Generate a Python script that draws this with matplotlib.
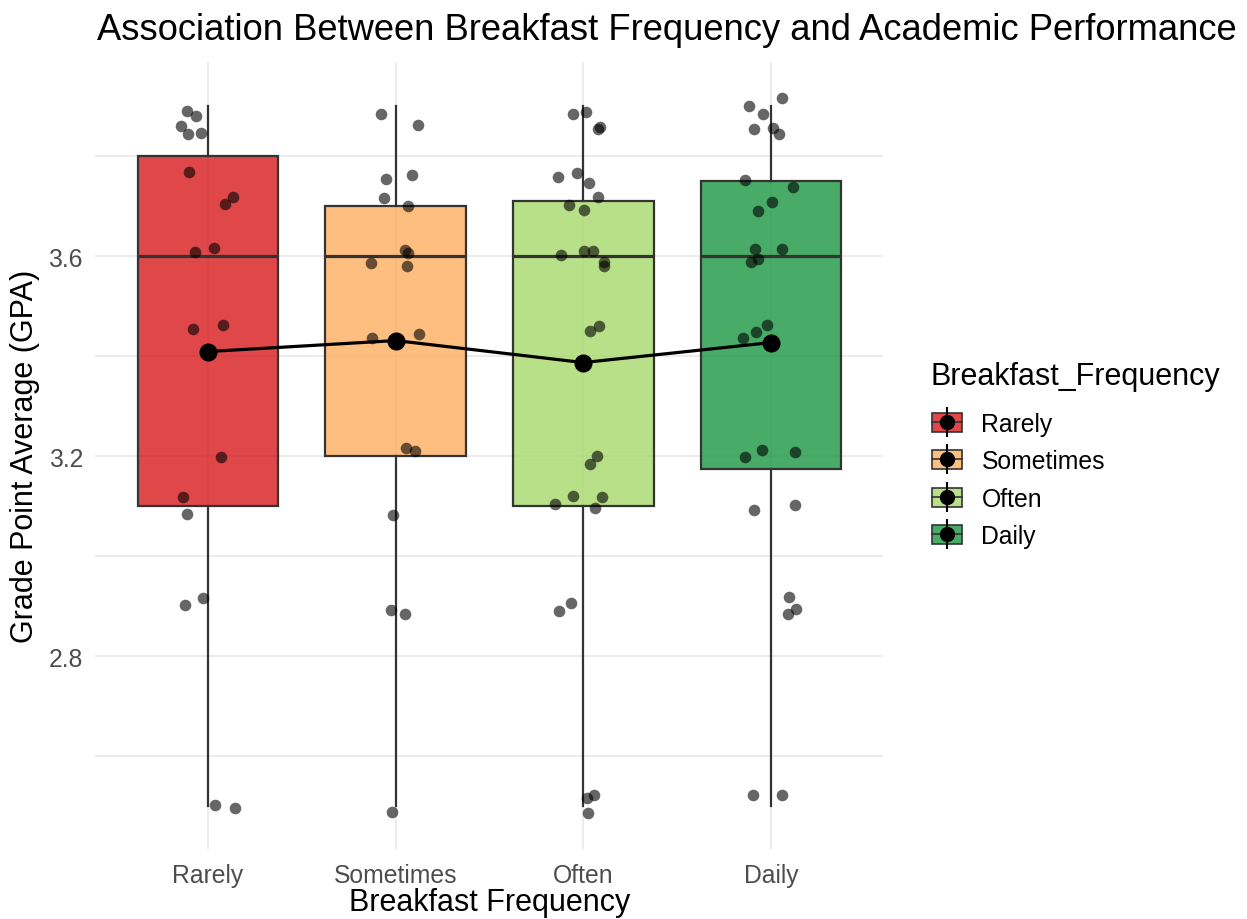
import matplotlib.pyplot as plt
from matplotlib.patches import Patch
from matplotlib.lines import Line2D
from matplotlib.legend_handler import HandlerTuple

plt.rcParams['font.family'] = ['Liberation Sans', 'DejaVu Sans']

categories = ['Rarely', 'Sometimes', 'Often', 'Daily']
fill_colors = ['#D7191C', '#FDAE61', '#A6D96A', '#1A9641']

# box summaries per group
q1 = [3.10, 3.20, 3.10, 3.175]
medians = [3.60, 3.60, 3.60, 3.60]
q3 = [3.80, 3.70, 3.71, 3.75]
whisker_lo = [2.50, 2.50, 2.50, 2.50]
whisker_hi = [3.90, 3.90, 3.90, 3.90]
means = [3.409, 3.431, 3.387, 3.427]

# jittered observations: horizontal offset from group centre, GPA
rarely_dx = [-0.110, -0.066, -0.145, -0.105, -0.036, -0.100, 0.132, 0.091, -0.068, 0.034,
             -0.082, 0.078, 0.068, -0.135, -0.112, -0.125, -0.029, 0.037, 0.142]
rarely_gpa = [3.891, 3.881, 3.861, 3.845, 3.847, 3.769, 3.719, 3.705, 3.609, 3.617,
              3.455, 3.463, 3.198, 3.118, 3.085, 2.902, 2.917, 2.502, 2.497]

sometimes_dx = [-0.080, 0.121, -0.050, 0.089, -0.062, 0.066, 0.048, 0.068, -0.129, 0.060,
                -0.124, 0.124, 0.057, 0.101, -0.014, -0.023, 0.051, -0.020]
sometimes_gpa = [3.885, 3.863, 3.755, 3.762, 3.717, 3.701, 3.612, 3.607, 3.587, 3.581,
                 3.437, 3.445, 3.217, 3.211, 3.083, 2.893, 2.885, 2.489]

often_dx = [-0.053, 0.014, 0.076, 0.091, -0.137, -0.036, 0.032, 0.076, -0.075, 0.002,
            -0.119, 0.005, 0.053, 0.108, 0.112, 0.037, 0.085, 0.071, 0.037, -0.053,
            -0.149, 0.100, 0.064, -0.132, -0.066, 0.022, 0.059, 0.027]
often_gpa = [3.884, 3.889, 3.854, 3.859, 3.759, 3.766, 3.747, 3.719, 3.702, 3.693,
             3.603, 3.611, 3.611, 3.589, 3.581, 3.451, 3.461, 3.201, 3.184, 3.121,
             3.105, 3.119, 3.097, 2.891, 2.907, 2.517, 2.522, 2.486]

daily_dx = [0.057, -0.116, -0.041, -0.091, 0.012, 0.044, -0.139, 0.116, 0.004, -0.068,
            -0.085, -0.068, -0.108, 0.060, -0.148, -0.080, -0.020, -0.139, -0.046, 0.128,
            -0.089, 0.128, 0.097, 0.132, 0.091, -0.096, 0.061]
daily_gpa = [3.917, 3.901, 3.884, 3.854, 3.857, 3.844, 3.753, 3.739, 3.709, 3.691,
             3.614, 3.594, 3.589, 3.614, 3.437, 3.449, 3.462, 3.199, 3.213, 3.209,
             3.092, 3.102, 2.919, 2.894, 2.884, 2.522, 2.522]

jitter_dx = [rarely_dx, sometimes_dx, often_dx, daily_dx]
jitter_gpa = [rarely_gpa, sometimes_gpa, often_gpa, daily_gpa]

fig = plt.figure(figsize=(12.47, 9.2), dpi=100)
ax = fig.add_axes([0.0765, 0.076, 0.632, 0.856])

positions = list(range(1, len(categories) + 1))
stats = []
for i, name in enumerate(categories):
    stats.append({'label': name, 'q1': q1[i], 'med': medians[i], 'q3': q3[i],
                  'whislo': whisker_lo[i], 'whishi': whisker_hi[i], 'mean': means[i]})

bp = ax.bxp(stats, positions=positions, widths=0.75, showfliers=False, showcaps=False,
            patch_artist=True, zorder=2,
            boxprops=dict(edgecolor='#333333', linewidth=1.6),
            whiskerprops=dict(color='#333333', linewidth=1.6),
            medianprops=dict(color='#333333', linewidth=2.3))
for patch, c in zip(bp['boxes'], fill_colors):
    r, g, b, _ = plt.matplotlib.colors.to_rgba(c)
    patch.set_facecolor((r, g, b, 0.8))

# jittered raw points
for i, pos in enumerate(positions):
    xs = [pos + d for d in jitter_dx[i]]
    ax.scatter(xs, jitter_gpa[i], s=70, color='black', alpha=0.6, linewidths=0, zorder=3)

# group means joined by a line
ax.plot(positions, means, color='black', linewidth=2.3, zorder=4)
ax.plot(positions, means, 'o', color='black', markersize=12, zorder=5)

ax.set_xlim(0.4, 4.6)
ax.set_ylim(2.414, 3.989)
ax.set_xticks(positions)
ax.set_xticklabels(categories)
ax.set_yticks([2.8, 3.2, 3.6])
ax.set_yticks([2.6, 3.0, 3.4, 3.8], minor=True)
ax.grid(True, which='major', color='#EBEBEB', linewidth=1.3)
ax.grid(True, which='minor', axis='y', color='#EBEBEB', linewidth=1.3)
ax.set_axisbelow(True)
for s in ax.spines.values():
    s.set_visible(False)
ax.tick_params(which='both', length=0, labelsize=17.8, labelcolor='#4D4D4D')
ax.tick_params(axis='x', pad=10)
ax.tick_params(axis='y', pad=9)

ax.set_xlabel('Breakfast Frequency', fontsize=22, labelpad=0)
ax.set_ylabel('Grade Point Average (GPA)', fontsize=22, labelpad=6)
fig.text(0.0775, 0.967, 'Association Between Breakfast Frequency and Academic Performance',
         fontsize=26.2, ha='left', va='center')

# legend keys: box with median bar, overlaid with the mean point and its stem
handles = []
for c in fill_colors:
    r, g, b, _ = plt.matplotlib.colors.to_rgba(c)
    box = Patch(facecolor=(r, g, b, 0.8), edgecolor='#333333', linewidth=1.2)
    med = Line2D([], [], color='#333333', linewidth=1.2)
    stem = Line2D([], [], marker='|', markersize=22, markeredgewidth=1.5, color='black', linestyle='none')
    dot = Line2D([], [], marker='o', markersize=10, color='black', linestyle='none')
    handles.append((box, med, stem, dot))

fig.text(0.7458, 0.590, 'Breakfast_Frequency', fontsize=22, ha='left', va='center')
leg = fig.legend(handles, categories,
                 handler_map={tuple: HandlerTuple(ndivide=1)},
                 loc='upper left', bbox_to_anchor=(0.7474, 0.5511), frameon=False,
                 borderpad=0, borderaxespad=0,
                 fontsize=17.8, handlelength=1.2, handleheight=0.8,
                 labelspacing=0.54, handletextpad=0.8)

fig.savefig('out.png', dpi=100)
